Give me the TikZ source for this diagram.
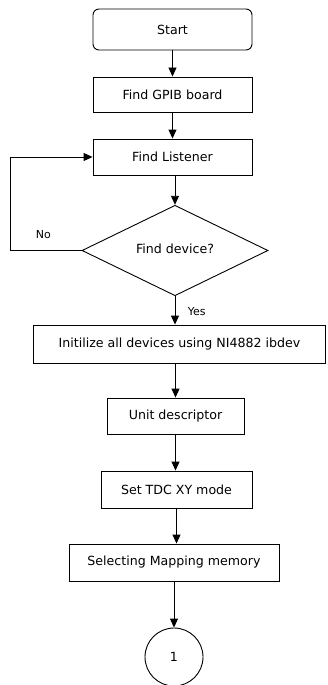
\documentclass[tikz,border=0pt]{standalone}
\usepackage{fontspec}
\setmainfont{DejaVu Sans}
\usetikzlibrary{shapes.geometric,arrows.meta}
\tikzset{
  box/.style={draw,inner sep=0pt,font=\fontsize{12.6}{14}\selectfont},
  lbl/.style={font=\fontsize{11}{13}\selectfont}
}
\begin{document}
\begin{tikzpicture}[x=1pt,y=-1pt,>={Stealth[length=9pt,width=8pt,inset=0pt]},line width=0.9pt]
\useasboundingbox (0,0) rectangle (327,685);
\node[box,rounded corners=6pt,minimum width=159,minimum height=41](start) at (172.5,29.5){Start};
\node[box,minimum width=159,minimum height=35](gpib) at (172.5,94.5){Find GPIB board};
\node[box,minimum width=159,minimum height=36](lis) at (172.5,157){Find Listener};
\node[box,diamond,minimum width=186,minimum height=75](dev) at (175,250.5){\raisebox{3pt}{Find device?}};
\node[box,minimum width=292,minimum height=38](init) at (179.5,344){Initilize all devices using NI4882 ibdev};
\node[box,minimum width=137,minimum height=36](unit) at (175.5,416){Unit descriptor};
\node[box,minimum width=151,minimum height=37](tdc) at (176.5,489.5){Set TDC XY mode};
\node[box,minimum width=210,minimum height=37](sel) at (174,562.5){Selecting Mapping memory};
\node[box,circle,minimum size=58](one) at (174,657){1};
\coordinate (loopx) at (10,0);

\draw[->](start)--(gpib);
\draw[->](gpib)--(lis);
\draw[->](dev.north|-lis.south)--(dev.north);
\draw[->](dev.south)--node[lbl,right,xshift=9pt,yshift=-1pt]{Yes}(dev.south|-init.north);
\draw[->](dev.west)--(dev.west-|loopx)node[lbl,above right,xshift=22pt,yshift=8pt]{No}|-(lis.west);
\draw[->](unit.north|-init.south)--(unit.north);
\draw[->](unit.south)--(unit.south|-tdc.north);
\draw[->](tdc.south)--(tdc.south|-sel.north);
\draw[->](sel.south)--(one.north);

\end{tikzpicture}
\end{document}
